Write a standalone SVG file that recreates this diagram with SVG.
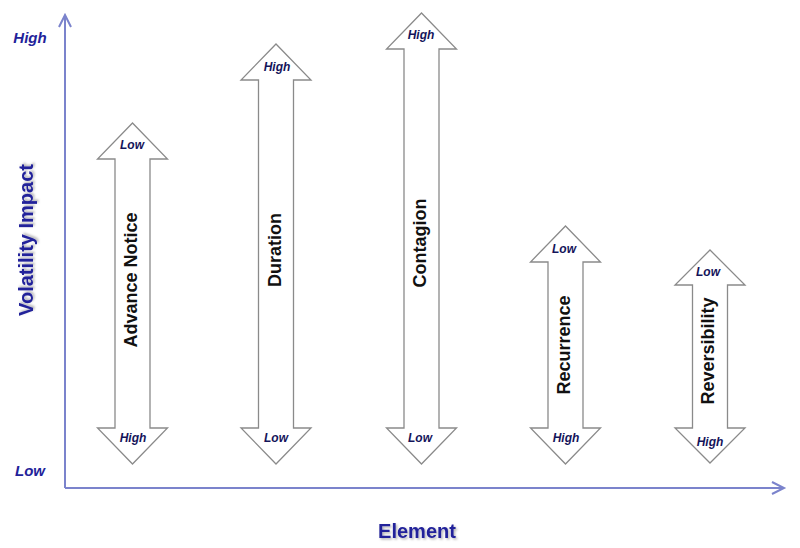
<svg xmlns="http://www.w3.org/2000/svg" width="800" height="548" viewBox="0 0 800 548">
<defs>
<style>
.axis{stroke:#7b83cc;stroke-width:2;fill:none}
.arr{fill:#ffffff;stroke:#8a8a8a;stroke-width:1.3}
.lbl{font-family:"Liberation Sans",Arial,sans-serif;font-weight:bold;font-size:18px;fill:#111111;text-anchor:middle}
.sm{font-family:"Liberation Sans",Arial,sans-serif;font-weight:bold;font-style:italic;font-size:12px;fill:#14145a;text-anchor:middle}
.ax{font-family:"Liberation Sans",Arial,sans-serif;font-weight:bold;font-style:italic;font-size:15px;fill:#22229a;text-anchor:middle}
.title{font-family:"Liberation Sans",Arial,sans-serif;font-weight:bold;font-size:20px;fill:#22229a;text-anchor:middle}
</style>
<filter id="sh" x="-10%" y="-10%" width="130%" height="140%">
<feDropShadow dx="1.5" dy="1.5" stdDeviation="0.8" flood-color="#000" flood-opacity="0.3"/>
</filter>
</defs>
<rect width="800" height="548" fill="#ffffff"/>
<g id="axes">
<path class="axis" d="M65,488 V16 M59,27 L65,15 L71,27"/>
<path class="axis" d="M65,488 H783 M772,482 L784,488 L772,494"/>
<text class="ax" x="30" y="43">High</text>
<text class="ax" x="30" y="476">Low</text>
<text class="title" filter="url(#sh)" transform="translate(33,240) rotate(-90)">Volatility Impact</text>
<text class="title" filter="url(#sh)" x="417" y="538">Element</text>
</g>
<g id="advance-notice">
<path class="arr" d="M132.5,123 L167.5,159 L150,159 L150,428 L167.5,428 L132.5,464 L97.5,428 L115,428 L115,159 L97.5,159 Z"/>
<text class="sm" x="132" y="149">Low</text>
<text class="sm" x="133" y="442">High</text>
<text class="lbl" transform="translate(131,280) rotate(-90)" y="6">Advance Notice</text>
</g>
<g id="duration">
<path class="arr" d="M276,44 L311,80 L293.5,80 L293.5,428 L311,428 L276,464 L241,428 L258.5,428 L258.5,80 L241,80 Z"/>
<text class="sm" x="277" y="71">High</text>
<text class="sm" x="276" y="442">Low</text>
<text class="lbl" transform="translate(275,250) rotate(-90)" y="6">Duration</text>
</g>
<g id="contagion">
<path class="arr" d="M421.5,13 L456.5,49 L439,49 L439,428 L456.5,428 L421.5,464 L386.5,428 L404,428 L404,49 L386.5,49 Z"/>
<text class="sm" x="421" y="39">High</text>
<text class="sm" x="420" y="442">Low</text>
<text class="lbl" transform="translate(420,243) rotate(-90)" y="6">Contagion</text>
</g>
<g id="recurrence">
<path class="arr" d="M565.5,226 L600.5,262 L583,262 L583,428 L600.5,428 L565.5,464 L530.5,428 L548,428 L548,262 L530.5,262 Z"/>
<text class="sm" x="564" y="253">Low</text>
<text class="sm" x="566" y="442">High</text>
<text class="lbl" transform="translate(564,345) rotate(-90)" y="6">Recurrence</text>
</g>
<g id="reversibility">
<path class="arr" d="M710,250 L745,285 L727.5,285 L727.5,428 L745,428 L710,463 L675,428 L692.5,428 L692.5,285 L675,285 Z"/>
<text class="sm" x="708" y="276">Low</text>
<text class="sm" x="710" y="446">High</text>
<text class="lbl" transform="translate(708,351) rotate(-90)" y="6">Reversibility</text>
</g>
</svg>
